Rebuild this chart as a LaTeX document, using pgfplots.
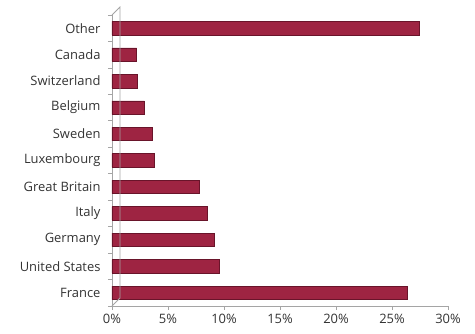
\documentclass[border=0pt]{standalone}
\usepackage{fontspec}
\setmainfont{Open Sans}
\usepackage{pgfplots}
\pgfplotsset{compat=1.18}
\definecolor{barc}{RGB}{158,36,66}
\definecolor{bard}{RGB}{105,20,42}
\definecolor{axc}{RGB}{165,165,165}
\begin{document}
\begin{tikzpicture}
\begin{axis}[
  scale only axis, width=336bp, height=291bp,
  xmin=0, xmax=30, ymin=-0.5, ymax=10.5,
  xbar, bar width=13.5bp,
  axis lines*=left,
  axis line style={draw=axc, line width=0.8pt},
  ytick={0,...,10},
  yticklabels={France,United States,Germany,Italy,Great Britain,Luxembourg,Sweden,Belgium,Switzerland,Canada,Other},
  minor ytick={-0.5,0.5,...,10.5},
  major y tick style={draw=none},
  minor y tick style={draw=axc, line width=0.8pt},
  xtick={0,5,...,30},
  xticklabel={\pgfmathprintnumber{\tick}\%},
  x tick style={draw=axc, line width=0.8pt},
  tick align=outside, major tick length=4bp, minor tick length=4bp,
  font=\fontsize{13}{15}\selectfont,
  color=black!80,
  /pgf/number format/assume math mode=true,
  yticklabel style={xshift=-4bp},
  xticklabel style={yshift=-1bp},
  clip=false,
]
\addplot[fill=barc, draw=bard, line width=0.6pt] coordinates {
  (26.4,0) (9.6,1) (9.1,2) (8.5,3) (7.8,4) (3.8,5) (3.6,6) (2.9,7) (2.3,8) (2.2,9) (27.4,10)
};
\coordinate (sw) at (rel axis cs:0,0);
\coordinate (ne) at (rel axis cs:1,1);
\draw[axc, line width=0.8pt] (rel axis cs:0,0) -- ++(8bp,8bp) -- ([shift={(8bp,8bp)}]rel axis cs:0,1) -- (rel axis cs:0,1);
\end{axis}
\pgfresetboundingbox
\path ([shift={(-112bp,-28bp)}]sw) rectangle ([shift={(27bp,15bp)}]ne);
\end{tikzpicture}
\end{document}
